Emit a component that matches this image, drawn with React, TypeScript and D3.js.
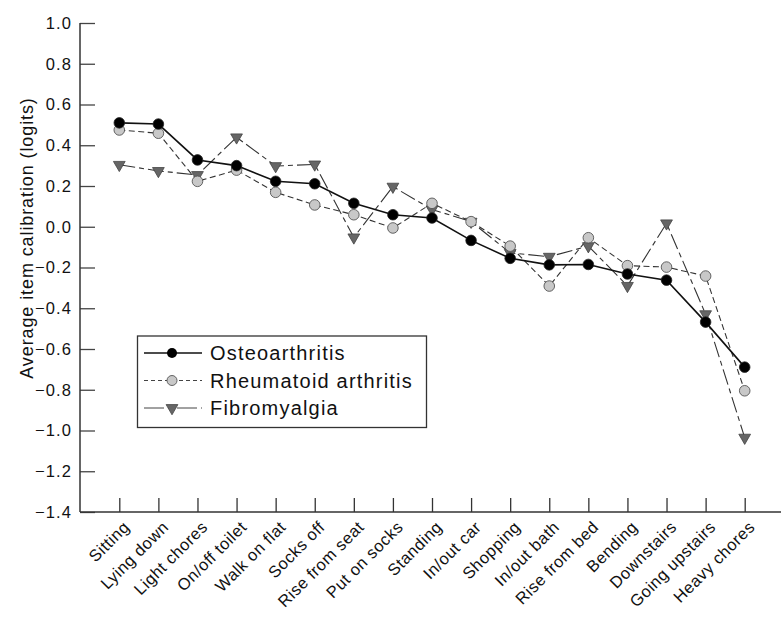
import * as d3 from 'd3';
import { useEffect, useRef } from 'react';

const categories = [
  'Sitting', 'Lying down', 'Light chores', 'On/off toilet', 'Walk on flat',
  'Socks off', 'Rise from seat', 'Put on socks', 'Standing', 'In/out car',
  'Shopping', 'In/out bath', 'Rise from bed', 'Bending', 'Downstairs',
  'Going upstairs', 'Heavy chores',
];
const osteoarthritis = [
  0.51, 0.504, 0.328, 0.3, 0.223, 0.211, 0.115, 0.059, 0.043, -0.067,
  -0.155, -0.187, -0.185, -0.232, -0.262, -0.468, -0.689,
];
const rheumatoid = [
  0.475, 0.459, 0.223, 0.278, 0.169, 0.107, 0.059, -0.006, 0.115, 0.025,
  -0.095, -0.291, -0.054, -0.191, -0.198, -0.242, -0.805,
];
const fibromyalgia = [
  0.304, 0.274, 0.254, 0.439, 0.298, 0.306, -0.052, 0.197, 0.085, 0.025,
  -0.128, -0.147, -0.095, -0.29, 0.017, -0.429, -1.035,
];
const yTicks = [1.0, 0.8, 0.6, 0.4, 0.2, 0.0, -0.2, -0.4, -0.6, -0.8, -1.0, -1.2, -1.4];

const FONT = '"Liberation Sans", Arial, Helvetica, sans-serif';

export default function App() {
  const svgRef = useRef<SVGSVGElement>(null);

  useEffect(() => {
    if (!svgRef.current) return;
    const svg = d3.select(svgRef.current);
    svg.selectAll('*').remove();

    const left = 80;
    const right = 781;
    const top = 23;
    const bottom = 512;

    const x = d3
      .scalePoint<string>()
      .domain(categories)
      .range([119.3, 744.7]);
    const y = d3.scaleLinear().domain([-1.4, 1.0]).range([bottom, top]);

    const axisColor = '#333';

    // y axis
    const yAxis = svg
      .append('g')
      .attr('transform', `translate(${left},0)`)
      .call(
        d3
          .axisRight(y)
          .tickValues(yTicks)
          .tickSize(15)
          .tickFormat(() => ''),
      );
    yAxis.select('.domain').remove();
    yAxis.selectAll('line').attr('stroke', '#444').attr('stroke-width', 1.3);
    svg
      .append('line')
      .attr('x1', left)
      .attr('x2', left)
      .attr('y1', top)
      .attr('y2', bottom)
      .attr('stroke', axisColor)
      .attr('stroke-width', 1.5);

    svg
      .append('g')
      .selectAll('text')
      .data(yTicks)
      .join('text')
      .attr('x', left - 8)
      .attr('y', (d) => y(d))
      .attr('dy', '0.35em')
      .attr('text-anchor', 'end')
      .attr('font-family', FONT)
      .attr('font-size', 16.5)
      .attr('letter-spacing', 1.1)
      .attr('fill', '#111')
      .text((d) => (d < 0 ? '\u2212' : '') + Math.abs(d).toFixed(1));

    // x axis
    const xAxis = svg
      .append('g')
      .attr('transform', `translate(0,${bottom})`)
      .call(d3.axisTop(x).tickSize(14).tickFormat(() => ''));
    xAxis.select('.domain').remove();
    xAxis.selectAll('line').attr('stroke', '#333').attr('stroke-width', 1.3);
    svg
      .append('line')
      .attr('x1', left)
      .attr('x2', right)
      .attr('y1', bottom)
      .attr('y2', bottom)
      .attr('stroke', axisColor)
      .attr('stroke-width', 1.5);

    svg
      .append('g')
      .selectAll('text')
      .data(categories)
      .join('text')
      .attr(
        'transform',
        (d) => `translate(${(x(d) ?? 0) + 3},${bottom + 8}) rotate(-45)`,
      )
      .attr('text-anchor', 'end')
      .attr('dy', '0.7em')
      .attr('font-family', FONT)
      .attr('font-size', 16.5)
      .attr('letter-spacing', 0.5)
      .attr('fill', '#111')
      .text((d) => d);

    // y title
    svg
      .append('text')
      .attr('transform', `translate(27,238) rotate(-90)`)
      .attr('text-anchor', 'middle')
      .attr('dy', '0.35em')
      .attr('font-family', FONT)
      .attr('font-size', 18)
      .attr('letter-spacing', 0.9)
      .attr('fill', '#111')
      .text('Average item calibration (logits)');

    const line = d3
      .line<number>()
      .x((_, i) => x(categories[i]) ?? 0)
      .y((d) => y(d));

    const tri = d3.symbol().type(d3.symbolTriangle).size(60);

    // Fibromyalgia
    svg
      .append('path')
      .attr('d', line(fibromyalgia))
      .attr('fill', 'none')
      .attr('stroke', '#333')
      .attr('stroke-width', 1.1)
      .attr('stroke-dasharray', '16,4,5,4');
    // Rheumatoid
    svg
      .append('path')
      .attr('d', line(rheumatoid))
      .attr('fill', 'none')
      .attr('stroke', '#333')
      .attr('stroke-width', 1.1)
      .attr('stroke-dasharray', '6,3.5');
    // Osteoarthritis
    svg
      .append('path')
      .attr('d', line(osteoarthritis))
      .attr('fill', 'none')
      .attr('stroke', '#111')
      .attr('stroke-width', 1.6);

    svg
      .append('g')
      .selectAll('path')
      .data(fibromyalgia)
      .join('path')
      .attr('d', tri)
      .attr(
        'transform',
        (d, i) => `translate(${x(categories[i])},${y(d)}) rotate(180)`,
      )
      .attr('fill', '#666')
      .attr('stroke', '#444')
      .attr('stroke-width', 0.8);

    svg
      .append('g')
      .selectAll('circle')
      .data(rheumatoid)
      .join('circle')
      .attr('cx', (_, i) => x(categories[i]) ?? 0)
      .attr('cy', (d) => y(d))
      .attr('r', 5.3)
      .attr('fill', '#c8c8c8')
      .attr('stroke', '#555')
      .attr('stroke-width', 0.9);

    svg
      .append('g')
      .selectAll('circle')
      .data(osteoarthritis)
      .join('circle')
      .attr('cx', (_, i) => x(categories[i]) ?? 0)
      .attr('cy', (d) => y(d))
      .attr('r', 5.3)
      .attr('fill', '#000')
      .attr('stroke', '#222')
      .attr('stroke-width', 0.8);

    // legend
    const lg = svg.append('g');
    lg.append('rect')
      .attr('x', 137.5)
      .attr('y', 336)
      .attr('width', 289)
      .attr('height', 91.5)
      .attr('fill', '#fff')
      .attr('stroke', '#333')
      .attr('stroke-width', 1.3);

    const rows = [
      { name: 'Osteoarthritis', dash: null, width: 1.6 },
      { name: 'Rheumatoid arthritis', dash: '4,3', width: 1 },
      { name: 'Fibromyalgia', dash: '20,4,5,4', width: 1 },
    ];
    rows.forEach((r, i) => {
      const cy = 353 + i * 27.5;
      lg.append('line')
        .attr('x1', 144)
        .attr('x2', 202)
        .attr('y1', cy)
        .attr('y2', cy)
        .attr('stroke', i === 0 ? '#111' : '#444')
        .attr('stroke-width', r.width)
        .attr('stroke-dasharray', r.dash);
      if (i === 0) {
        lg.append('circle')
          .attr('cx', 172)
          .attr('cy', cy)
          .attr('r', 5)
          .attr('fill', '#000');
      } else if (i === 1) {
        lg.append('circle')
          .attr('cx', 172)
          .attr('cy', cy)
          .attr('r', 5)
          .attr('fill', '#c8c8c8')
          .attr('stroke', '#555')
          .attr('stroke-width', 0.9);
      } else {
        lg.append('path')
          .attr('d', tri)
          .attr('transform', `translate(172,${cy}) rotate(180)`)
          .attr('fill', '#666')
          .attr('stroke', '#444')
          .attr('stroke-width', 0.8);
      }
      lg.append('text')
        .attr('x', 210)
        .attr('y', cy)
        .attr('dy', '0.36em')
        .attr('font-family', FONT)
        .attr('font-size', 20)
        .attr('letter-spacing', 1.2)
        .attr('fill', '#111')
        .text(r.name);
    });
  }, []);

  return (
    <div style={{ position: 'absolute', left: 0, top: 0, background: '#fff' }}>
      <svg ref={svgRef} width={781} height={617} style={{ display: 'block' }} />
    </div>
  );
}
